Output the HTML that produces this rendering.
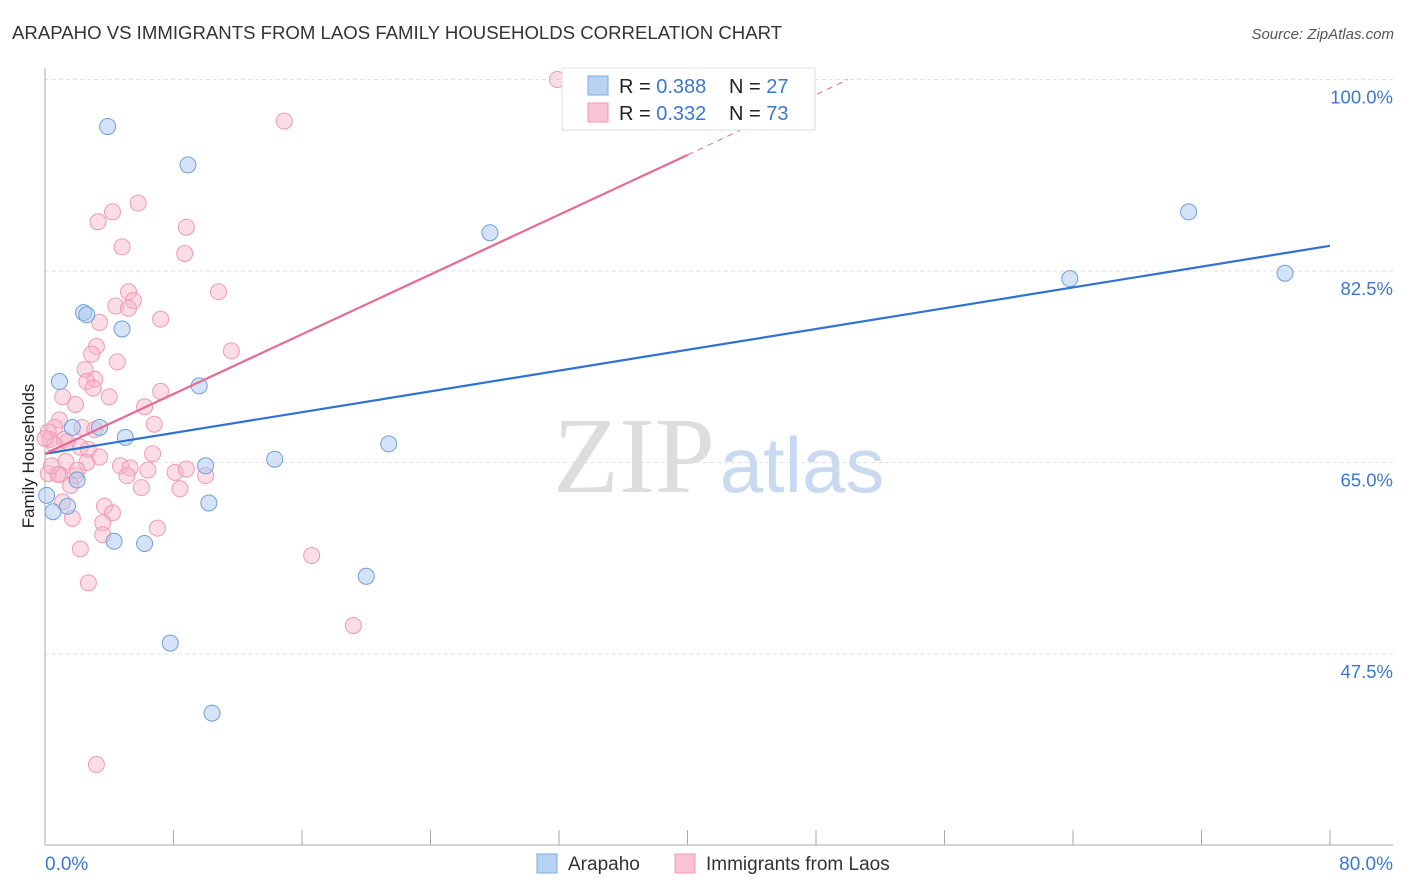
<!DOCTYPE html>
<html><head><meta charset="utf-8"><style>
body{margin:0;background:#fff;font-family:"Liberation Sans",sans-serif}
svg{display:block}
</style></head><body>
<svg id="chart" width="1406" height="892">
<text x="12" y="39" font-size="18.6" fill="#333">ARAPAHO VS IMMIGRANTS FROM LAOS FAMILY HOUSEHOLDS CORRELATION CHART</text>
<text x="1394" y="39" font-size="15" fill="#555" font-style="italic" text-anchor="end">Source: ZipAtlas.com</text>
<text x="34" y="456" font-size="17" fill="#222" text-anchor="middle" transform="rotate(-90 34 456)">Family Households</text>
<g id="grid"></g>
<g>
<text x="634" y="492" font-size="108" fill="#ddd" font-family="Liberation Serif,serif" text-anchor="middle">ZIP</text>
<text x="802" y="492" font-size="78" fill="#c9daf0" text-anchor="middle">atlas</text>
</g>
<line x1="45" y1="68" x2="45" y2="845" stroke="#aaa"/>
<line x1="45" y1="845" x2="1393" y2="845" stroke="#aaa"/>
<g id="ticks"></g>
<g id="ylabels"></g>
<text x="45" y="870" font-size="19" fill="#3a78d0">0.0%</text>
<text x="1393" y="870" font-size="19" fill="#3a78d0" text-anchor="end">80.0%</text>
<g id="pts"></g>
<g id="lines"></g>
<g>
<rect x="562" y="68" width="253" height="62" fill="#fff" stroke="#ddd"/>
<rect x="588" y="76" width="20" height="19" fill="#b8d2f4" stroke="#7fa9e0"/>
<rect x="588" y="103" width="20" height="19" fill="#fac4d4" stroke="#f09ab5"/>
<text x="619" y="93" font-size="20" fill="#222">R = <tspan fill="#3a78d0">0.388</tspan><tspan x="729">N = </tspan><tspan fill="#3a78d0">27</tspan></text>
<text x="619" y="120" font-size="20" fill="#222">R = <tspan fill="#3a78d0">0.332</tspan><tspan x="729">N = </tspan><tspan fill="#3a78d0">73</tspan></text>
</g>
<g>
<rect x="537" y="854" width="20" height="19" fill="#b8d2f4" stroke="#7fa9e0"/>
<text x="568" y="870" font-size="19" fill="#333">Arapaho</text>
<rect x="675" y="854" width="20" height="19" fill="#fac4d4" stroke="#f09ab5"/>
<text x="706" y="870" font-size="19" fill="#333">Immigrants from Laos</text>
</g>
</svg>
<script>
const yTicks=[100,82.5,65,47.5];
const xTickVals=[0,8,16,24,32,40,48,56,64,72,80];
const blueX=[3.9,8.9,27.7,71.2,63.8,77.2,2.4,2.6,4.8,0.9,9.6,1.7,5.0,3.4,21.4,14.3,10.0,2.0,0.1,0.5,1.4,10.2,4.3,6.2,20.0,7.8,10.4];
const blueY=[95.7,92.2,86.0,87.9,81.8,82.3,78.7,78.5,77.2,72.4,72.0,68.2,67.3,68.2,66.7,65.3,64.7,63.4,62.0,60.5,61.0,61.3,57.8,57.6,54.6,48.5,42.1];
const pinkX=[31.9,14.9,5.8,4.2,3.3,8.8,4.8,8.7,10.8,5.2,5.5,4.4,5.2,7.2,3.4,11.6,3.2,2.9,4.5,2.5,3.1,2.6,3.0,7.2,4.0,1.1,1.9,6.2,0.9,6.8,0.6,2.3,0.2,1.2,1.4,0.3,2.2,2.7,3.4,6.7,2.6,1.3,4.7,5.3,6.4,8.1,8.8,5.1,10.0,0.9,0.2,1.9,1.6,8.4,6.0,1.1,3.7,4.2,1.7,3.6,7.0,3.6,2.2,16.6,2.7,19.2,3.2,0.6,0.8,0.0,0.4,2.0,3.1];
const pinkY=[100,96.2,88.7,87.9,87.0,86.5,84.7,84.1,80.6,80.6,79.8,79.3,79.1,78.1,77.8,75.2,75.6,74.9,74.2,73.5,72.6,72.4,71.8,71.5,71.0,71.0,70.3,70.1,68.9,68.5,68.2,68.2,67.8,67.1,66.9,67.1,66.4,66.2,65.5,65.8,65.0,65.1,64.7,64.5,64.3,64.1,64.4,63.8,63.8,63.9,64.0,63.8,62.9,62.6,62.7,61.4,61.0,60.4,59.9,59.5,59.0,58.4,57.1,56.5,54.0,50.1,37.4,66.6,63.9,67.2,64.7,64.3,68.0];
const blueLine=[0,65.8,80,84.8];
const pinkLine=[0,65.8,40,93.1,50,100];
const X=v=>45+v*16.0625, Y=v=>79.5+(100-v)*10.943;
const NS='http://www.w3.org/2000/svg';
function mk(p,t,a){const e=document.createElementNS(NS,t);for(const k in a)e.setAttribute(k,a[k]);p.appendChild(e);return e;}
const grid=document.getElementById('grid'),yl=document.getElementById('ylabels');
yTicks.forEach(t=>{
 const l=mk(grid,'line',{x1:45,x2:1393,y1:Y(t),y2:Y(t),stroke:'#e2e2e2','stroke-dasharray':'4 3'});
 
 
 const tx=mk(yl,'text',{x:1393,y:Y(t)+24,'font-size':18.5,fill:'#3a78d0','text-anchor':'end'});
 tx.textContent=t.toFixed(1)+'%';
 
 
});
const tk=document.getElementById('ticks');
xTickVals.forEach(v=>{const l=mk(tk,'line',{x1:X(v),x2:X(v),y1:830,y2:845,stroke:'#aaa'});
 
 });
const pts=document.getElementById('pts');
pinkX.forEach((v,i)=>{const c=mk(pts,'circle',{cx:X(v),cy:Y(pinkY[i]),r:8,fill:'rgba(248,180,200,0.45)',stroke:'#f09ab5','stroke-width':1});
 
 });
blueX.forEach((v,i)=>{const c=mk(pts,'circle',{cx:X(v),cy:Y(blueY[i]),r:8,fill:'rgba(170,200,240,0.5)',stroke:'#6f9fdc','stroke-width':1});
 
 });
const ln=document.getElementById('lines');
const b=mk(ln,'line',{x1:X(blueLine[0]),y1:Y(blueLine[1]),x2:X(blueLine[2]),y2:Y(blueLine[3]),stroke:'#2f72d4','stroke-width':2.2});


const p=mk(ln,'line',{x1:X(pinkLine[0]),y1:Y(pinkLine[1]),x2:X(pinkLine[2]),y2:Y(pinkLine[3]),stroke:'#e86a94','stroke-width':2.2});


const pd=mk(ln,'line',{x1:X(pinkLine[2]),y1:Y(pinkLine[3]),x2:X(pinkLine[4]),y2:Y(pinkLine[5]),stroke:'#e86a94','stroke-width':1,'stroke-dasharray':'6 5'});


</script>
</body></html>
